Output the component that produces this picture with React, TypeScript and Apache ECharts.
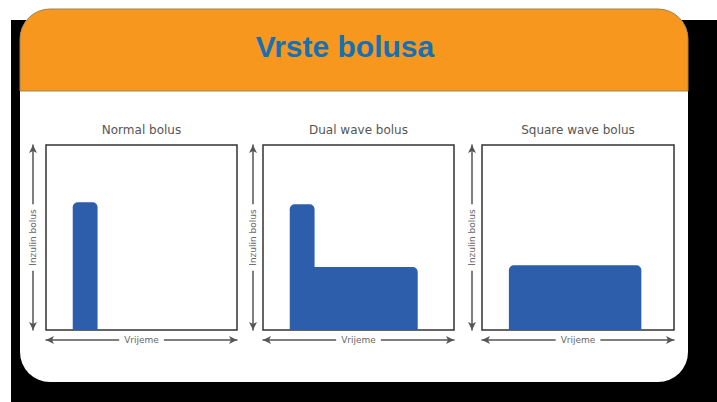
import React, { useEffect, useRef } from "react";
import * as echarts from "echarts";

// [start time, end time, insulin dose] on a 0–100 scale
const normalBolus = [[14, 27, 69]];
const dualWaveBolus = [[27, 81, 34], [14, 27, 68]];
const squareWaveBolus = [[14, 83, 35]];

const panelTitles = ["Normal bolus", "Dual wave bolus", "Square wave bolus"];
const yAxisName = "Inzulin bolus";
const xAxisName = "Vrijeme";
const mainTitle = "Vrste bolusa";

const grids = [
  { left: 46, top: 145, width: 191, height: 185 },
  { left: 263, top: 145, width: 191, height: 185 },
  { left: 482, top: 145, width: 192, height: 185 },
];
const yOffsets = [13, 10, 10];
const BAR = "#2C5EAB";

export default function App() {
  const ref = useRef<HTMLDivElement>(null);
  useEffect(() => {
    if (!ref.current) return;
    const chart = echarts.init(ref.current, null, { renderer: "svg" });
    const datasets = [normalBolus, dualWaveBolus, squareWaveBolus];
    const axisLine = {
      show: true,
      onZero: false,
      symbol: ["arrow", "arrow"],
      symbolSize: [6, 8],
      lineStyle: { color: "#555", width: 1.5 },
    };
    const nameStyle = {
      fontFamily: "DejaVu Sans",
      fontSize: 9,
      color: "#666",
      backgroundColor: "#fff",
      padding: [1, 5],
      align: "center",
      verticalAlign: "middle",
    };
    const base = {
      type: "value",
      min: 0,
      max: 100,
      axisTick: { show: false },
      axisLabel: { show: false },
      splitLine: { show: false },
    };
    // line-only axes (indices 0..2) and name-only overlay axes (indices 3..5)
    const xAxes = [
      ...grids.map((_, i) => ({ ...base, gridIndex: i, position: "bottom", offset: 10, axisLine, z: 1 })),
      ...grids.map((_, i) => ({
        ...base,
        gridIndex: i,
        position: "bottom",
        offset: 10,
        z: 5,
        axisLine: { show: false, onZero: false },
        name: xAxisName,
        nameLocation: "middle",
        nameGap: 0,
        nameTextStyle: nameStyle,
      })),
    ];
    const yAxes = [
      ...grids.map((_, i) => ({ ...base, gridIndex: i, position: "left", offset: yOffsets[i], axisLine, z: 1 })),
      ...grids.map((_, i) => ({
        ...base,
        gridIndex: i,
        position: "left",
        offset: yOffsets[i],
        z: 5,
        axisLine: { show: false, onZero: false },
        name: yAxisName,
        nameLocation: "middle",
        nameGap: 0,
        nameRotate: 90,
        nameTextStyle: nameStyle,
      })),
    ];
    chart.setOption({
      animation: false,
      graphic: [
        { type: "rect", z: -10, shape: { x: 11, y: 20, width: 706, height: 382 }, style: { fill: "#000" } },
        { type: "rect", z: -9, shape: { x: 20, y: 9, width: 668, height: 373, r: 30 }, style: { fill: "#fff" } },
        {
          type: "rect",
          z: -8,
          shape: { x: 20, y: 9, width: 668, height: 82, r: [30, 30, 0, 0] },
          style: { fill: "#F7971E", stroke: "#A08358", lineWidth: 1 },
        },
        {
          type: "text",
          z: -7,
          style: {
            text: mainTitle,
            x: 345,
            y: 46,
            align: "center",
            verticalAlign: "middle",
            font: 'bold 30px "Liberation Sans"',
            fill: "#1670B4",
          },
        },
        ...panelTitles.map((t, i) => ({
          type: "text",
          z: -7,
          style: {
            text: t,
            x: grids[i].left + grids[i].width / 2,
            y: 130,
            align: "center",
            verticalAlign: "middle",
            font: '12px "DejaVu Sans"',
            fill: "#555",
          },
        })),
      ],
      grid: grids.map((g) => ({
        ...g,
        show: true,
        borderColor: "#333",
        borderWidth: 1.5,
        backgroundColor: "transparent",
      })),
      xAxis: xAxes,
      yAxis: yAxes,
      series: datasets.map((d, i) => ({
        type: "custom",
        xAxisIndex: i,
        yAxisIndex: i,
        data: d,
        encode: { x: [0, 1], y: 2 },
        itemStyle: { color: BAR },
        renderItem: (params: any, api: any) => {
          const start = api.value(0);
          const joined = d.some((seg) => seg[1] === start);
          const s = api.coord([start, api.value(2)]);
          const e = api.coord([api.value(1), 0]);
          const x0 = joined ? s[0] - 2 : s[0];
          return {
            type: "rect",
            shape: {
              x: x0,
              y: s[1],
              width: e[0] - x0,
              height: e[1] - s[1],
              r: [joined ? 0 : 5, 5, 0, 0],
            },
            style: { fill: BAR },
          };
        },
      })),
    });
    return () => chart.dispose();
  }, []);
  return (
    <div
      ref={ref}
      style={{ position: "absolute", left: 0, top: 0, width: 717, height: 402 }}
    />
  );
}
